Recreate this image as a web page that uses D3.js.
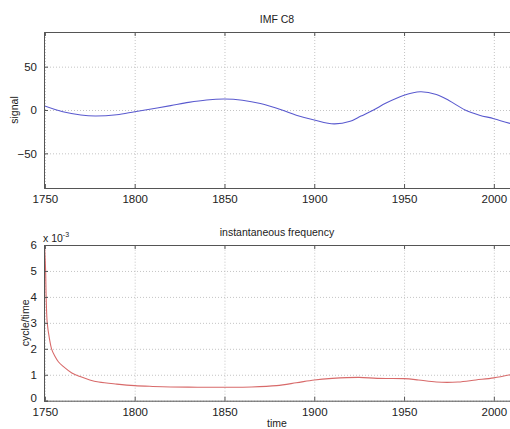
<!DOCTYPE html>
<html>
<head>
<meta charset="utf-8">
<script src="https://cdn.jsdelivr.net/npm/d3@7"></script>
<style>
  body { margin: 0; background: #fff; }
  text { font-family: "Liberation Sans", Arial, sans-serif; fill: #222; }
  .grid line { stroke: #c4c4c4; stroke-dasharray: 1,2; }
  .grid path { display: none; }
  .ax path, .ax line { stroke: #555; }
</style>
</head>
<body>
<div id="area"></div>
<script>
// IMF C8 signal (year, value)
const sigYears = [1749.5, 1760, 1770, 1778, 1790, 1800, 1810, 1820, 1830, 1840, 1850, 1860, 1870, 1882, 1890, 1900, 1911, 1920, 1926, 1933, 1940, 1950, 1959, 1968, 1975, 1984, 1992, 2000, 2009]
const sigValues = [5, -2, -5.8, -7, -5.5, -2, 1.5, 5, 8.8, 11.6, 12.7, 11.3, 7.5, 0, -6, -11.5, -16, -13, -7, 0, 8, 17, 21, 18, 11, 0, -6, -10, -15.5]

// instantaneous frequency (x 10^-3)
const freqYears = [1749.6, 1750.4, 1750.7, 1751.3, 1752.5, 1753.7, 1755.5, 1757.5, 1760, 1765, 1770, 1775, 1780, 1790, 1800, 1810, 1820, 1835, 1850, 1865, 1879, 1890, 1900, 1910, 1925, 1935, 1950, 1958, 1968, 1980, 1990, 2000, 2009]
const freqValues = [6.3, 5, 4, 3, 2.4, 2, 1.72, 1.5, 1.33, 1.07, 0.92, 0.8, 0.72, 0.64, 0.58, 0.55, 0.53, 0.52, 0.52, 0.53, 0.58, 0.69, 0.8, 0.86, 0.9, 0.86, 0.85, 0.8, 0.72, 0.72, 0.8, 0.88, 1.0]

const yearTicks = [1750, 1800, 1850, 1900, 1950, 2000]
const sigTicks = [-50, 0, 50]
const freqTicks = [0, 1, 2, 3, 4, 5, 6]

const svg = d3.select('#area').append('svg')
  .attr('width', 510).attr('height', 429)

const left = 44, right = 510

function panel(top, bottom, yDomain, yTicks, xs, ys, color, title, ylabel, labelX, id) {
  const x = d3.scaleLinear().domain([1749.5, 2009]).range([left, right])
  const y = d3.scaleLinear().domain(yDomain).range([bottom, top])
  const h = bottom - top
  const g = svg.append('g')

  g.append('clipPath').attr('id', id).append('rect')
    .attr('x', left).attr('y', top).attr('width', right - left).attr('height', h)

  g.append('g').attr('class', 'grid')
    .attr('transform', `translate(0,${bottom})`)
    .call(d3.axisBottom(x).tickValues(yearTicks).tickSize(-h).tickFormat(''))
  g.append('g').attr('class', 'grid')
    .attr('transform', `translate(${left},0)`)
    .call(d3.axisLeft(y).tickValues(yTicks).tickSize(-(right - left)).tickFormat(''))

  const line = d3.line()
    .x((d, i) => x(xs[i]))
    .y(d => y(d))
    .curve(d3.curveCatmullRom.alpha(0.5))
  g.append('path')
    .datum(ys)
    .attr('clip-path', `url(#${id})`)
    .attr('d', line)
    .attr('fill', 'none')
    .attr('stroke', color)
    .attr('stroke-width', 1.1)

  const xb = g.append('g').attr('class', 'ax')
    .attr('transform', `translate(0,${bottom})`)
    .call(d3.axisBottom(x).tickValues(yearTicks).tickSize(-4).tickPadding(7).tickFormat(d3.format('d')))
  xb.selectAll('text').style('font-size', '11.5px')
  g.append('g').attr('class', 'ax')
    .attr('transform', `translate(0,${top})`)
    .call(d3.axisTop(x).tickValues(yearTicks).tickSize(-4).tickFormat(''))
  const yl = g.append('g').attr('class', 'ax')
    .attr('transform', `translate(${left},0)`)
    .call(d3.axisLeft(y).tickValues(yTicks).tickSize(-4).tickPadding(7).tickFormat(d3.format('d')))
  yl.selectAll('text').style('font-size', '11.5px')
  // lift the lowest label a little so it clears the year labels
  if (yDomain[0] === 0) yl.selectAll('text').filter(d => d === 0).attr('dy', '0.05em')

  g.append('text')
    .attr('x', (left + right) / 2).attr('y', top - 9)
    .attr('text-anchor', 'middle').style('font-size', '10.5px')
    .text(title)

  g.append('text')
    .attr('transform', `translate(${labelX},${(top + bottom) / 2}) rotate(-90)`)
    .attr('text-anchor', 'middle').style('font-size', '10.5px')
    .text(ylabel)
  return x
}

panel(32, 188, [-90, 90], sigTicks, sigYears, sigValues, '#5a5acf', 'IMF C8', 'signal', 18, 'c1')
panel(245, 400.7, [0, 6], freqTicks, freqYears, freqValues, '#d86a6a', 'instantaneous frequency', 'cycle/time', 29, 'c2')

// exponent label
const ex = svg.append('text').attr('x', 43).attr('y', 242).style('font-size', '10.5px')
ex.append('tspan').text('x 10')
ex.append('tspan').attr('dy', -5).style('font-size', '7px').text('-3')

svg.append('text')
  .attr('x', 277).attr('y', 427)
  .attr('text-anchor', 'middle').style('font-size', '10.5px')
  .text('time')
</script>
</body>
</html>
